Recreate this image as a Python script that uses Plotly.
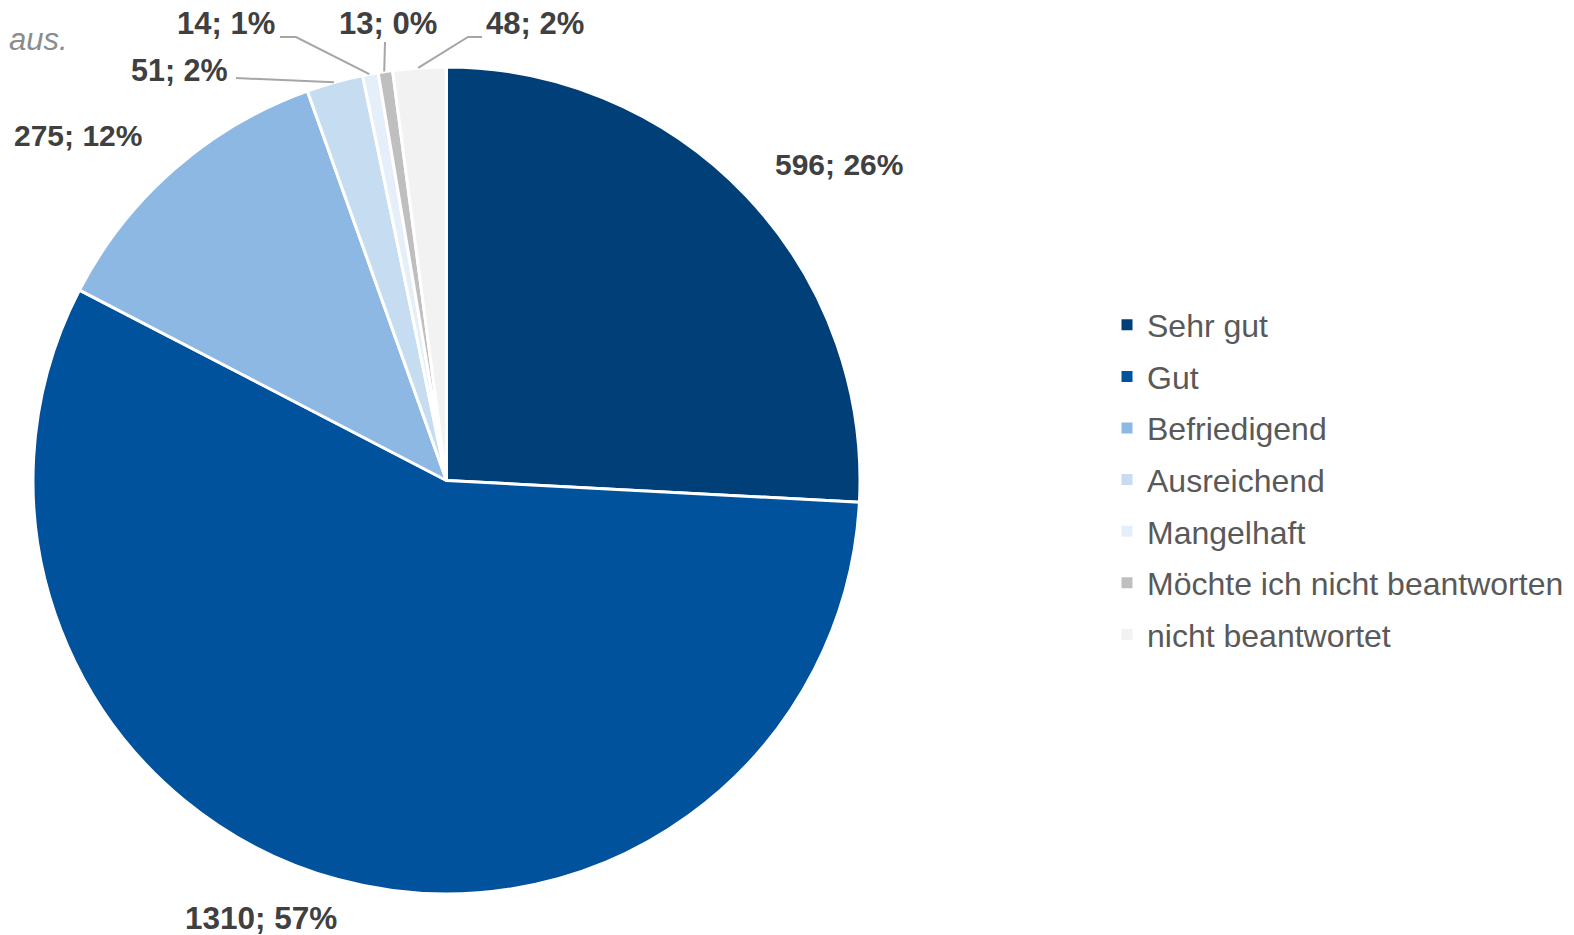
import math
import plotly.graph_objects as go

# ---- data ----
categories = ["Sehr gut", "Gut", "Befriedigend", "Ausreichend", "Mangelhaft",
              "Möchte ich nicht beantworten", "nicht beantwortet"]
counts = [596, 1310, 275, 51, 14, 13, 48]
pct_labels = ["26%", "57%", "12%", "2%", "1%", "0%", "2%"]

# ---- style ----
colors = ["#003F77", "#00529C", "#8DB8E3", "#C5DCF1", "#E5EFFA", "#BFBFBF", "#F2F2F2"]
W, H = 1574, 935
CX, CY, R = 445, 478, 411          # visible pie centre / radius in pixels (layout)
DOM_CX, DOM_CY = CX + 1.5, CY + 2.5  # domain centre (compensates plotly rounding)
R_DOM = R + 2.5                    # domain half-size (compensates for plotly inset)

# label centres (pixels), font sizes, leader-line start / elbow (pixels)
label_pos = [(839, 164), (261, 918), (78, 135), (179, 70), (226, 23), (388, 23), (535, 23)]
label_size = [30, 31.5, 30, 30.5, 31, 31, 31]
leader_start = [None, None, None, (236, 78), (280, 37), (385, 42), (482, 37)]
leader_elbow = [None, None, None, None, (296, 37), None, (468, 37)]


def px(x):
    return x / W


def py(y):
    return 1 - y / H


fig = go.Figure()
fig.add_trace(go.Pie(
    labels=categories,
    values=counts,
    sort=False,
    direction="clockwise",
    rotation=0,
    marker=dict(colors=colors, line=dict(color="white", width=3)),
    textinfo="none",
    hoverinfo="label+value+percent",
    showlegend=False,
    domain=dict(x=[px(DOM_CX - R_DOM), px(DOM_CX + R_DOM)],
                y=[py(DOM_CY + R_DOM), py(DOM_CY - R_DOM)]),
))

# legend entries (one per category)
for name, col in zip(categories, colors):
    fig.add_trace(go.Scatter(
        x=[None], y=[None], mode="markers", name=name, legendgroup=name,
        marker=dict(symbol="square", size=11, color=col, line=dict(width=0)),
        showlegend=True, hoverinfo="skip",
    ))

annotations = []
shapes = []
total = sum(counts)
cum = 0
for i, v in enumerate(counts):
    mid = (cum + v / 2) / total * 2 * math.pi
    cum += v
    ex = CX + R * math.sin(mid)
    ey = CY - R * math.cos(mid)
    lx, ly = label_pos[i]
    annotations.append(dict(
        x=px(lx), y=py(ly), xref="paper", yref="paper",
        text=f"<b>{v}; {pct_labels[i]}</b>", showarrow=False,
        xanchor="center", yanchor="middle",
        font=dict(family="Liberation Sans, Arial", size=label_size[i], color="#404040"),
    ))
    if leader_start[i] is not None:
        pts = [leader_start[i]]
        if leader_elbow[i] is not None:
            pts.append(leader_elbow[i])
        pts.append((ex, ey))
        path = "M " + " L ".join(f"{px(a)},{py(b)}" for a, b in pts)
        shapes.append(dict(type="path", path=path, xref="paper", yref="paper",
                           line=dict(color="#A6A6A6", width=2)))

annotations.append(dict(
    x=px(7), y=py(40), xref="paper", yref="paper", text="<i>aus.</i>",
    showarrow=False, xanchor="left", yanchor="middle",
    font=dict(family="Liberation Sans, Arial", size=31, color="#8C8C8C"),
))

fig.update_layout(
    width=W, height=H,
    margin=dict(l=0, r=0, t=0, b=0),
    paper_bgcolor="white", plot_bgcolor="white",
    xaxis=dict(visible=False), yaxis=dict(visible=False),
    showlegend=True,
    legend=dict(
        x=px(1107), y=py(480), xanchor="left", yanchor="middle",
        font=dict(family="Liberation Sans, Arial", size=32, color="#595959"),
        bgcolor="rgba(0,0,0,0)", tracegroupgap=7, itemclick=False,
    ),
    annotations=annotations,
    shapes=shapes,
)

fig.write_html("out.html", config={"displayModeBar": False},
               post_script="document.body.style.margin='0';document.body.style.overflow='hidden';")
